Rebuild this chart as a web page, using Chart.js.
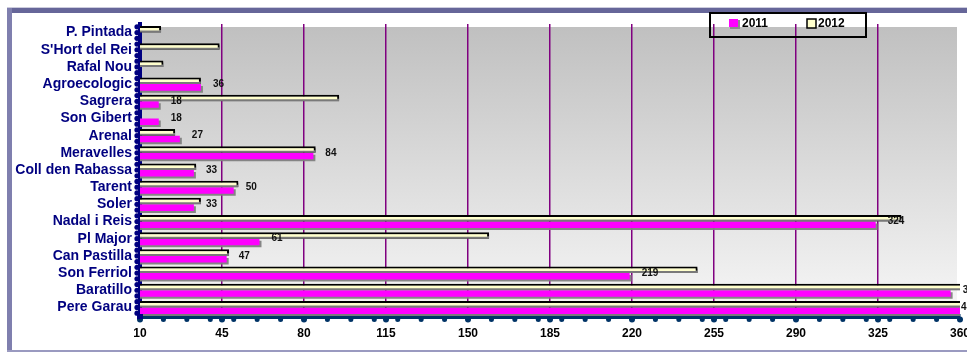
<!DOCTYPE html>
<html>
<head>
<meta charset="utf-8">
<script src="https://cdn.jsdelivr.net/npm/chart.js@4.4.1/dist/chart.umd.min.js"></script>
<style>
html,body{margin:0;padding:0;background:#fff;}
#wrap{width:967px;height:352px;position:relative;}
canvas{display:block;}
</style>
</head>
<body>
<div id="wrap"><canvas id="c" width="967" height="352"></canvas></div>
<script>
const categories = ['P. Pintada', "S'Hort del Rei", 'Rafal Nou', 'Agroecologic', 'Sagrera', 'Son Gibert', 'Arenal', 'Meravelles', 'Coll den Rabassa', 'Tarent', 'Soler', 'Nadal i Reis', 'Pl Major', 'Can Pastilla', 'Son Ferriol', 'Baratillo', 'Pere Garau'];
const values2011 = [null, null, null, 36, 18, 18, 27, 84, 33, 50, 33, 324, 61, 47, 219, 356, 455];
const values2012 = [19, 44, 20, 36, 95, null, 25, 85, 34, 52, 36, 335, 159, 48, 248, 365, 470];
const seriesNames = ['2011', '2012'];
const axisMin = 10, axisMax = 360, axisStep = 35, minorStep = 10;

const framePlugin = {
  id: 'frame',
  beforeDraw(chart) {
    const ctx = chart.ctx, a = chart.chartArea;
    ctx.save();
    ctx.fillStyle = '#ffffff';
    ctx.fillRect(0, 0, chart.width, chart.height);
    ctx.fillStyle = '#ccccdd';
    ctx.fillRect(7, 7, chart.width - 7, 1);
    ctx.fillStyle = '#666699';
    ctx.fillRect(7, 8, chart.width - 7, 5);
    ctx.fillStyle = '#7f7fae';
    ctx.fillRect(7, 8, 5, chart.height - 8);
    ctx.fillStyle = '#9a9ac0';
    ctx.fillRect(7, chart.height - 2, chart.width - 7, 2);
    const top = a.top + 3;
    const g = ctx.createLinearGradient(0, top, 0, a.bottom);
    g.addColorStop(0, '#c0c0c0');
    g.addColorStop(1, '#f7f7f7');
    ctx.fillStyle = g;
    ctx.fillRect(a.left, top, a.right - 3 - a.left, a.bottom - top);
    ctx.restore();
  },
  beforeDatasetsDraw(chart) {
    const ctx = chart.ctx;
    ctx.save();
    ctx.shadowColor = 'rgba(128,128,128,0.95)';
    ctx.shadowOffsetX = 2;
    ctx.shadowOffsetY = 2;
    ctx.shadowBlur = 0;
  },
  afterDatasetsDraw(chart) {
    const ctx = chart.ctx;
    ctx.restore();
    const a = chart.chartArea;
    const ys = chart.scales.y, xs = chart.scales.x;
    ctx.save();
    ctx.font = 'bold 10px "Liberation Sans", Arial, sans-serif';
    ctx.fillStyle = '#111111';
    ctx.textAlign = 'left';
    ctx.textBaseline = 'middle';
    values2011.forEach((v, i) => {
      if (v == null) return;
      const px = xs.getPixelForValue(v);
      const x = px > a.right ? a.right + 1 : px + 12;
      ctx.fillText(String(v), x, ys.getPixelForValue(i));
    });
    ctx.restore();
  },
  afterDraw(chart) {
    const ctx = chart.ctx, a = chart.chartArea;
    const xs = chart.scales.x;
    ctx.save();
    ctx.fillStyle = '#003366';
    for (let v = axisMin; v <= axisMax + 0.01; v += 1) {
      const major = (v - axisMin) % axisStep === 0;
      const minor = v % minorStep === 0;
      if (!major && !minor) continue;
      const x = xs.getPixelForValue(v);
      ctx.beginPath();
      ctx.arc(x, a.bottom + 3.5, major ? 3 : 2.5, 0, Math.PI * 2);
      ctx.fill();
    }
    ctx.fillStyle = '#000080';
    const step = (a.bottom - a.top) / (categories.length * 3);
    for (let y = a.top + step / 2; y < a.bottom + 2; y += step) {
      ctx.beginPath();
      ctx.arc(a.left - 3, y, 2.6, 0, Math.PI * 2);
      ctx.fill();
    }
    ctx.fillRect(a.left - 3, a.bottom - 2, 6, 5);
    const lx = 710, ly = 13, lw = 156, lh = 24;
    ctx.strokeStyle = '#000000';
    ctx.lineWidth = 2;
    ctx.strokeRect(lx, ly, lw, lh);
    ctx.font = 'bold 12px "Liberation Sans", Arial, sans-serif';
    ctx.textBaseline = 'middle';
    ctx.textAlign = 'left';
    ctx.fillStyle = '#8c8c8c';
    ctx.fillRect(lx + 20, ly + 7, 10, 9);
    ctx.fillStyle = '#ff00ff';
    ctx.fillRect(lx + 19, ly + 6, 9, 8);
    ctx.fillStyle = '#000000';
    ctx.fillText(seriesNames[0], lx + 32, ly + 11);
    ctx.fillStyle = '#ffffcc';
    ctx.fillRect(lx + 97, ly + 6, 9, 9);
    ctx.lineWidth = 1.5;
    ctx.strokeRect(lx + 97, ly + 6, 9, 9);
    ctx.fillStyle = '#000000';
    ctx.fillText(seriesNames[1], lx + 108, ly + 11);
    ctx.restore();
  }
};

new Chart(document.getElementById('c'), {
  type: 'bar',
  data: {
    labels: categories,
    datasets: [
      { label: seriesNames[1], data: values2012, backgroundColor: '#ffffcc', borderColor: '#000000', borderWidth: 2, borderSkipped: false },
      { label: seriesNames[0], data: values2011, backgroundColor: '#ff00ff', borderWidth: 0 }
    ]
  },
  options: {
    indexAxis: 'y',
    responsive: false,
    animation: false,
    devicePixelRatio: 1,
    layout: { padding: { left: 12, right: 7, top: 24, bottom: 9 } },
    datasets: { bar: { categoryPercentage: 0.76, barPercentage: 1.0, grouped: true } },
    plugins: { legend: { display: false }, tooltip: { enabled: false } },
    scales: {
      x: {
        type: 'linear',
        min: axisMin, max: axisMax,
        afterFit(s) { s.height = 27; s.paddingLeft = 0; s.paddingRight = 0; },
        ticks: { stepSize: axisStep, color: '#000000', padding: 10, font: { family: '"Liberation Sans", Arial, sans-serif', size: 12, weight: 'bold' } },
        grid: {
          drawTicks: false,
          color: (c) => (c.tick && c.tick.value > axisMin && c.tick.value < axisMax) ? '#800080' : 'rgba(0,0,0,0)',
          lineWidth: 1.5
        },
        border: { color: '#003366', width: 5 }
      },
      y: {
        afterFit(s) { s.width = 128; s.paddingTop = 0; s.paddingBottom = 0; },
        ticks: { autoSkip: false, color: '#000080', padding: 8, font: { family: '"Liberation Sans", Arial, sans-serif', size: 14, weight: 'bold' } },
        grid: { display: false, drawTicks: false },
        border: { color: '#000080', width: 4 }
      }
    }
  },
  plugins: [framePlugin]
});
</script>
</body>
</html>
